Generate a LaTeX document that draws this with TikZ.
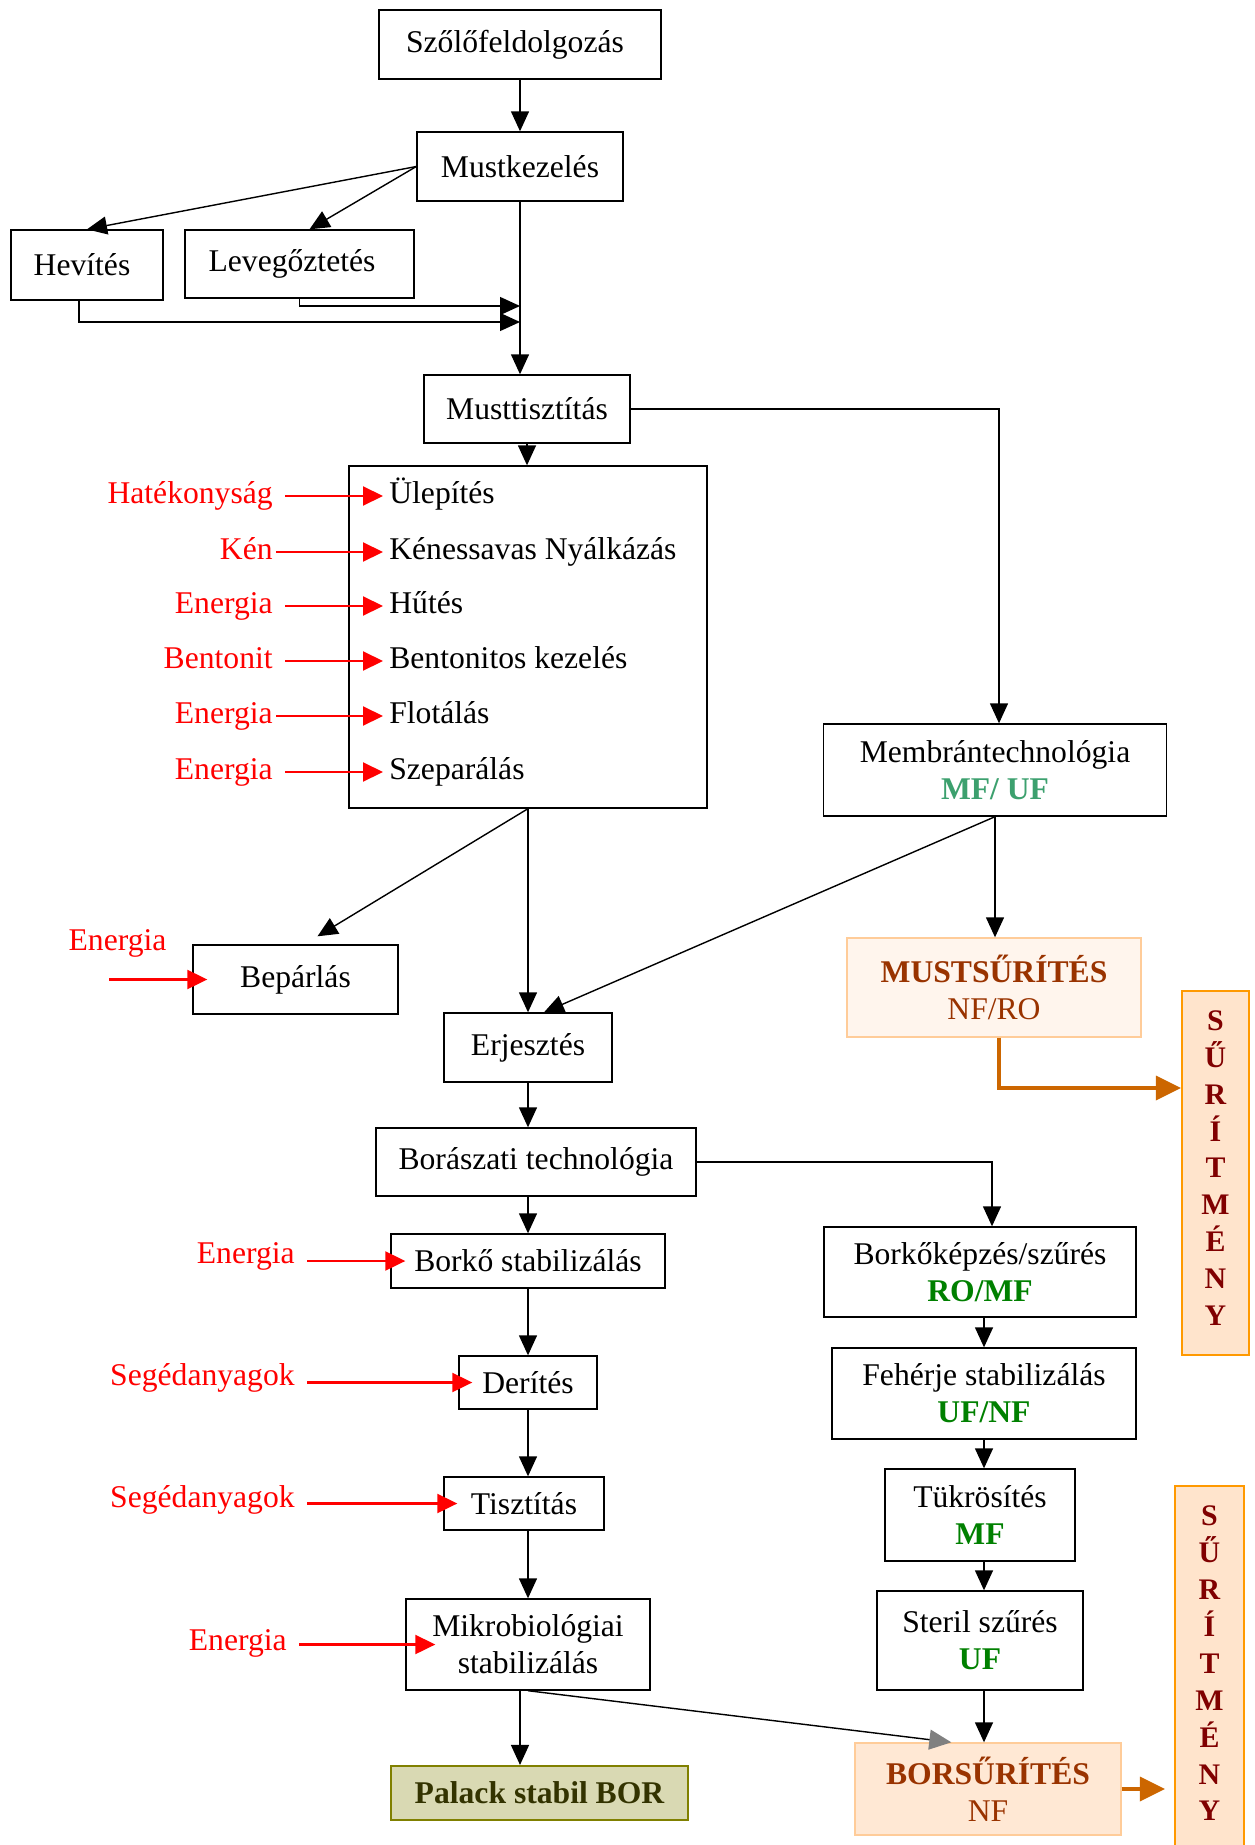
\documentclass[tikz,border=0pt]{standalone}
\usepackage{fontspec}
\setmainfont{Liberation Serif}
\usepackage{tikz}
\usetikzlibrary{arrows.meta}

\definecolor{zold}{RGB}{0,128,0}
\definecolor{tengerzold}{RGB}{60,160,110}
\definecolor{barna}{RGB}{153,51,0}
\definecolor{bordo}{RGB}{128,0,0}
\definecolor{narancs}{RGB}{204,102,0}
\definecolor{halvany}{RGB}{255,245,237}
\definecolor{barack}{RGB}{255,232,212}
\definecolor{keret}{RGB}{255,204,153}
\definecolor{surfill}{RGB}{255,228,204}
\definecolor{surkeret}{RGB}{255,153,0}
\definecolor{olivfill}{RGB}{217,217,179}
\definecolor{oliv}{RGB}{128,128,0}
\definecolor{olivtext}{RGB}{51,51,0}

\begin{document}
\begin{tikzpicture}[x=0.02cm, y=-0.02cm, font=\fontsize{18}{21}\selectfont,
    doboz/.style={draw, line width=0.8pt, inner sep=0pt, align=center},
    sor/.style={anchor=west, inner sep=0.12cm, text height=12pt, text depth=4pt},
    cimke/.style={text=red, inner sep=0pt, text height=12pt, text depth=4pt},
    nyil/.style={line width=0.8pt, -{Triangle[length=0.4cm,width=0.36cm]}},
    piros/.style={red, line width=1.2pt, -{Triangle[length=0.4cm,width=0.38cm]}},
    vastag/.style={narancs, line width=2pt, -{Triangle[length=0.5cm,width=0.48cm]}},
    surbox/.style={draw=surkeret, fill=surfill, line width=1.2pt, inner sep=0pt, align=center,
        text=bordo, font=\fontsize{17}{21}\selectfont\bfseries}]
    \useasboundingbox (0,0) rectangle (1254,1845);

    % must
    \node[doboz, minimum width=5.64cm, minimum height=1.38cm] (szolo) at (520,44.5) {Szőlőfeldolgozás\hspace{0.2cm}};
    \node[doboz, minimum width=4.12cm, minimum height=1.38cm] (must) at (520,166.5) {Mustkezelés};
    \node[doboz, minimum width=3.04cm, minimum height=1.40cm] (hevit) at (87,265) {Hevítés\hspace{0.2cm}};
    \node[doboz, minimum width=4.58cm, minimum height=1.36cm] (levego) at (299.5,264) {Levegőztetés\hspace{0.3cm}};
    \node[doboz, minimum width=4.12cm, minimum height=1.36cm] (tisztit) at (527,409) {Musttisztítás};

    \draw[nyil] (szolo) -- (must);
    \draw[nyil] (must.west) -- (hevit.north);
    \draw[nyil] (must.west) -- ([xshift=0.2cm]levego.north);
    \coordinate (j1) at (520,306);
    \coordinate (j2) at (520,322);
    \draw[nyil] (levego.south) |- (j1);
    \draw[nyil] ([xshift=-0.16cm]hevit.south) |- (j2);
    \draw[nyil] (must.south) -- (must.south |- tisztit.north);

    % tisztitasi lepesek
    \node[doboz, minimum width=7.16cm, minimum height=6.84cm] (bigbox) at (528,637) {};
    \node[sor] (ulep) at (383,496) {Ülepítés};
    \node[sor] (kenes) at (383,552) {Kénessavas Nyálkázás};
    \node[sor] (hutes) at (383,606) {Hűtés};
    \node[sor] (bento) at (383,661) {Bentonitos kezelés};
    \node[sor] (flot) at (383,716) {Flotálás};
    \node[sor] (szep) at (383,772) {Szeparálás};

    \node[cimke, anchor=east] (c1) at (273,496) {Hatékonyság};
    \node[cimke, anchor=east] (c2) at (273,552) {Kén};
    \node[cimke, anchor=east] (c3) at (273,606) {Energia};
    \node[cimke, anchor=east] (c4) at (273,661) {Bentonit};
    \node[cimke, anchor=east] (c5) at (273,716) {Energia};
    \node[cimke, anchor=east] (c6) at (273,772) {Energia};

    \draw[piros, shorten <=0.24cm] (c1) -- (ulep);
    \draw[piros, shorten <=0.06cm] (c2) -- (kenes);
    \draw[piros, shorten <=0.24cm] (c3) -- (hutes);
    \draw[piros, shorten <=0.24cm] (c4) -- (bento);
    \draw[piros, shorten <=0.06cm] (c5) -- (flot);
    \draw[piros, shorten <=0.24cm] (c6) -- (szep);

    \draw[nyil] (tisztit.south) -- (tisztit.south |- bigbox.north);

    % membran ag
    \node[doboz, minimum width=6.86cm, minimum height=1.84cm] (membran) at (995,770)
        {Membrántechnológia\\\textcolor{tengerzold}{\textbf{MF/ UF}}};
    \node[doboz, draw=keret, fill=halvany, text=barna, minimum width=5.88cm, minimum height=1.98cm] (mustsur)
        at (994,987.5) {\textbf{MUSTSŰRÍTÉS}\\NF/RO};
    \node[surbox, text depth=0.2cm, minimum width=1.34cm, minimum height=7.28cm] (surit1) at (1215.5,1173)
        {S\\Ű\\R\\Í\\T\\M\\É\\N\\Y};

    \draw[nyil] (tisztit.east) -| ([xshift=0.08cm]membran.north);
    \draw[nyil] (membran.south) -- (membran.south |- mustsur.north);
    \draw[vastag] ([xshift=0.1cm]mustsur.south) |- ([yshift=1.7cm]surit1.west);

    % erjesztes
    \node[doboz, minimum width=4.10cm, minimum height=1.38cm] (bepar) at (295.5,979.5) {Bepárlás};
    \node[doboz, minimum width=3.36cm, minimum height=1.38cm] (erjeszt) at (528,1047.5) {Erjesztés};
    \node[cimke] (c7) at (117.5,943) {Energia};
    \coordinate (e0) at (109,979.5);

    \draw[nyil] (bigbox.south) -- ([xshift=0.44cm,yshift=0.16cm]bepar.north);
    \draw[nyil] (bigbox.south) -- (erjeszt.north);
    \draw[nyil] (membran.south) -- ([xshift=0.32cm]erjeszt.north);
    \draw[piros] (e0) -- ([xshift=0.3cm]bepar.west);

    % boraszat
    \node[doboz, minimum width=6.40cm, minimum height=1.36cm] (borasz) at (536,1162) {Borászati technológia};
    \node[doboz, minimum width=5.48cm, minimum height=1.08cm] (borko) at (528,1261) {Borkő stabilizálás};
    \node[doboz, minimum width=2.76cm, minimum height=1.06cm] (derites) at (528,1382.5) {Derítés};
    \node[doboz, minimum width=3.20cm, minimum height=1.06cm] (tisztas) at (524,1503.5) {Tisztítás};
    \node[doboz, minimum width=4.88cm, minimum height=1.82cm] (mikro) at (528,1644.5)
        {Mikrobiológiai\\stabilizálás};
    \node[doboz, draw=oliv, fill=olivfill, line width=1.2pt, text=olivtext,
        font=\fontsize{18}{21}\selectfont\bfseries, minimum width=5.94cm, minimum height=1.08cm]
        (palack) at (539.5,1793) {Palack stabil BOR};

    \draw[nyil] (erjeszt.south) -- (erjeszt.south |- borasz.north);
    \draw[nyil] (borasz.south -| erjeszt) -- (borko.north);
    \draw[nyil] (borko) -- (derites);
    \draw[nyil] (derites.south) -- (derites.south |- tisztas.north);
    \draw[nyil] (tisztas.south -| derites) -- (mikro.north);
    \draw[nyil] ([xshift=-0.16cm]mikro.south) -- ([xshift=-0.16cm]mikro.south |- palack.north);

    \node[cimke, anchor=east] (c8) at (295,1256) {Energia};
    \node[cimke, anchor=east] (c9) at (295,1378) {Segédanyagok};
    \node[cimke, anchor=east] (c10) at (295,1500) {Segédanyagok};
    \node[cimke, anchor=east] (c11) at (287,1643) {Energia};

    \draw[piros, shorten <=0.24cm] (c8.east |- borko.west) -- ([xshift=0.3cm]borko.west);
    \draw[piros, shorten <=0.24cm] (c9.east |- derites.west) -- ([xshift=0.28cm]derites.west);
    \draw[piros, shorten <=0.24cm] (c10.east |- tisztas.west) -- ([xshift=0.28cm]tisztas.west);
    \draw[piros, shorten <=0.24cm] (c11.east |- mikro.west) -- ([xshift=0.6cm]mikro.west);

    % membranszuresek
    \node[doboz, minimum width=6.24cm, minimum height=1.80cm] (borkokep) at (980,1272)
        {Borkőképzés/szűrés\\\textcolor{zold}{\textbf{RO/MF}}};
    \node[doboz, minimum width=6.08cm, minimum height=1.82cm] (feherje) at (984,1393.5)
        {Fehérje stabilizálás\\\textcolor{zold}{\textbf{UF/NF}}};
    \node[doboz, minimum width=3.80cm, minimum height=1.84cm] (tukor) at (980,1515)
        {Tükrösítés\\\textcolor{zold}{\textbf{MF}}};
    \node[doboz, minimum width=4.12cm, minimum height=1.98cm] (steril) at (980,1640.5)
        {Steril szűrés\\\textcolor{zold}{\textbf{UF}}};
    \node[doboz, draw=keret, fill=barack, text=barna, minimum width=5.32cm, minimum height=1.84cm] (borsur)
        at (988,1789) {\textbf{BORSŰRÍTÉS}\\NF};
    \node[surbox, text depth=0.3cm, minimum width=1.38cm, minimum height=7.40cm] (surit2) at (1209.5,1671)
        {S\\Ű\\R\\Í\\T\\M\\É\\N\\Y};

    \draw[nyil] (borasz.east) -| ([xshift=0.24cm]borkokep.north);
    \draw[nyil] (borkokep.south -| feherje) -- (feherje.north);
    \draw[nyil] (feherje.south) -- (feherje.south |- tukor.north);
    \draw[nyil] (tukor.south -| feherje) -- (steril.north -| feherje);
    \draw[nyil] (steril.south -| feherje) -- (borsur.north -| feherje);
    \draw[line width=0.8pt, -{Triangle[length=0.44cm,width=0.4cm,color=gray]}]
        (mikro.south) -- ([xshift=1.94cm]borsur.north west);
    \draw[vastag, shorten >=0.18cm] (borsur.east) -- (borsur.east -| surit2.west);
\end{tikzpicture}
\end{document}
